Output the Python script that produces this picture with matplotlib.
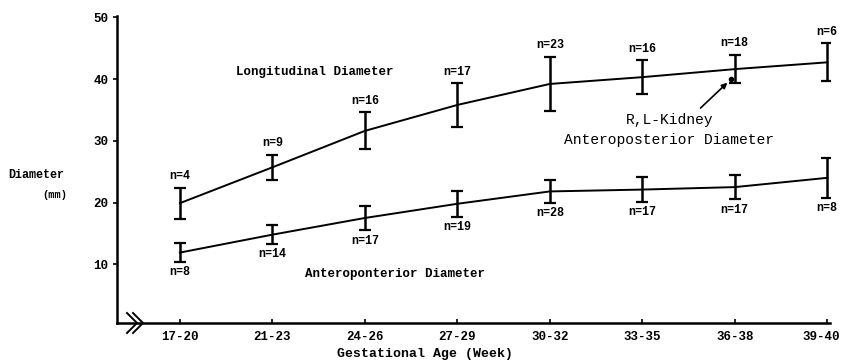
import matplotlib
matplotlib.use('Agg')
import matplotlib.pyplot as plt
import matplotlib.transforms as mtrans
import numpy as np

# gestational age groups
weeks = ['17-20', '21-23', '24-26', '27-29', '30-32', '33-35', '36-38', '39-40']

# longitudinal diameter (mm), mean and error
long_mean = [19.9, 25.7, 31.6, 35.8, 39.2, 40.3, 41.6, 42.7]
long_err = [2.5, 2.0, 3.0, 3.5, 4.4, 2.7, 2.3, 3.1]
long_n = ['n=4', 'n=9', 'n=16', 'n=17', 'n=23', 'n=16', 'n=18', 'n=6']

# anteroposterior diameter (mm), mean and error
ap_mean = [11.9, 14.8, 17.5, 19.8, 21.8, 22.1, 22.5, 24.0]
ap_err = [1.5, 1.5, 2.0, 2.1, 1.8, 2.0, 2.0, 3.2]
ap_n = ['n=8', 'n=14', 'n=17', 'n=19', 'n=28', 'n=17', 'n=17', 'n=8']

# single kidney point the arrow points at
kidney_x = 5.96
kidney_y = 40.0

mono = 'Liberation Mono'
plt.rcParams['font.family'] = [mono, 'DejaVu Sans Mono']

fig = plt.figure(figsize=(8.43, 3.62), dpi=100)
ax = fig.add_axes([117/843, 1-323/362, (830-117)/843, (323-16)/362])

x = np.arange(len(weeks))

for mean, err in [(long_mean, long_err), (ap_mean, ap_err)]:
    ax.plot(x, mean, color='black', lw=1.4)
    ax.errorbar(x, mean, yerr=err, fmt='none', ecolor='black',
                elinewidth=1.8, capsize=4, capthick=1.6)

#n= labels
for xi, m, e, lab in zip(x, long_mean, long_err, long_n):
    ax.annotate(lab, (xi, m + e), xytext=(0, 4), textcoords='offset points',
                ha='center', va='bottom', fontsize=8.5, fontweight='bold')
for xi, m, e, lab in zip(x, ap_mean, ap_err, ap_n):
    ax.annotate(lab, (xi, m - e), xytext=(0, -3), textcoords='offset points',
                ha='center', va='top', fontsize=8.5, fontweight='bold')

#series names
ax.text(0.61, 41.1, 'Longitudinal Diameter', fontsize=9, fontweight='bold', va='center')
ax.text(1.35, 8.4, 'Anteroponterior Diameter', fontsize=9, fontweight='bold', va='center')
ax.text(4.82, 33.4, 'R,L-Kidney', fontsize=10.5, va='center')
ax.text(4.15, 30.2, 'Anteroposterior Diameter', fontsize=10.5, va='center')

ax.plot([kidney_x], [kidney_y], 'o', color='black', ms=3)
ax.annotate('', xy=(5.92, 39.4), xytext=(5.63, 35.3),
            arrowprops=dict(arrowstyle='-|>', color='black', lw=1.2,
                            mutation_scale=8, shrinkA=0, shrinkB=0))

ax.set_xlim(-0.68, 7.03)
ax.set_ylim(0.5, 50.2)
ax.set_xticks(x)
ax.set_xticklabels(weeks)
ax.set_yticks([10, 20, 30, 40, 50])
for lbl in ax.get_xticklabels() + ax.get_yticklabels():
    lbl.set_fontweight('bold')
    lbl.set_fontsize(9)
ax.tick_params(axis='x', direction='in', length=3, width=1.2, pad=6)
ax.tick_params(axis='y', direction='out', length=3, width=1.2, pad=3)

#nudge the last label so it stays inside the figure
last = ax.get_xticklabels()[-1]
last.set_transform(last.get_transform() + mtrans.ScaledTranslation(-4/72, 0, fig.dpi_scale_trans))

for s in ['top', 'right']:
    ax.spines[s].set_visible(False)
for s in ['left', 'bottom']:
    ax.spines[s].set_linewidth(1.8)

#axis break mark on the x axis
for dx in [0, 6]:
    xs = np.array([127, 137, 127]) + dx
    ys = np.array([313, 323, 333])
    fig.add_artist(plt.Line2D(xs/843, 1-ys/362, color='black', lw=1.4,
                              transform=fig.transFigure))

fig.text(8/843, 1-175/362, 'Diameter', fontsize=8.5, fontweight='bold', va='center')
fig.text(42/843, 1-195/362, '(mm)', fontsize=7.5, fontweight='bold', va='center')
fig.text(425/843, 1-354/362, 'Gestational Age (Week)', fontsize=9.5,
         fontweight='bold', ha='center', va='center')

plt.savefig('out.png', dpi=100)
